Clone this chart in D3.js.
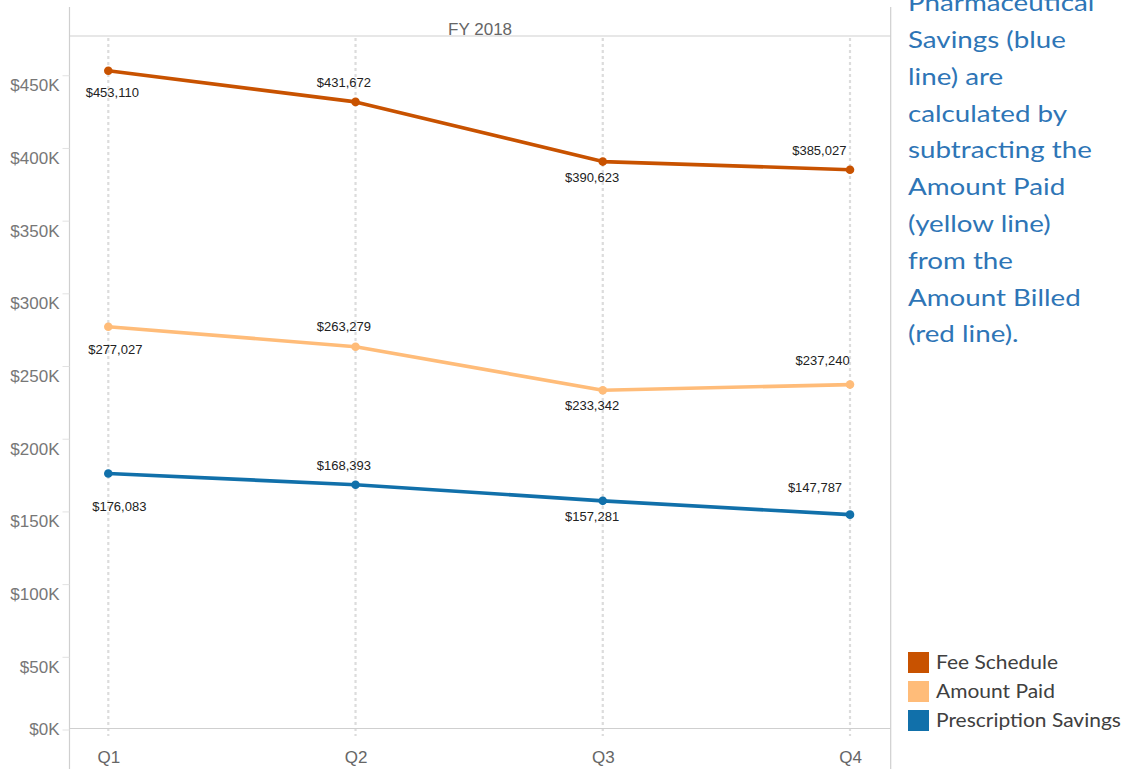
<!DOCTYPE html>
<html><head><meta charset="utf-8">
<script src="https://cdn.jsdelivr.net/npm/d3@7"></script>
<style>body{margin:0;background:#fff;} svg{display:block;}</style>
</head><body><svg id="c" width="1125" height="769"></svg>
<script>
// ---- data ----
const quarters = ["Q1", "Q2", "Q3", "Q4"];
const seriesNames = ["Fee Schedule", "Amount Paid", "Prescription Savings"];
const feeSchedule = [453110, 431672, 390623, 385027];
const amountPaid = [277027, 263279, 233342, 237240];
const prescriptionSavings = [176083, 168393, 157281, 147787];
const yTickValues = [0, 50000, 100000, 150000, 200000, 250000, 300000, 350000, 400000, 450000];
const headerLabel = "FY 2018";
const noteLines = ["Pharmaceutical", "Savings (blue", "line) are", "calculated by", "subtracting the",
  "Amount Paid", "(yellow line)", "from the", "Amount Billed", "(red line)."];

// ---- layout / style (not data) ----
const colors = ["#c85200", "#ffbc79", "#1170aa"];
const labelOffsets = [
  [[4, 26.7], [-11.6, -15], [-10.7, 20.3], [-30.7, -15]],
  [[7, 27.3], [-11.6, -15.7], [-10.7, 19.3], [-27.3, -20]],
  [[11, 38], [-11.6, -14.4], [-10.7, 19.7], [-35, -22.7]]
];
const series = seriesNames.map((name, i) => ({
  name, color: colors[i], offsets: labelOffsets[i],
  values: [feeSchedule, amountPaid, prescriptionSavings][i]
}));

const svg = d3.select("#c");
const pLeft = 69.5, pRight = 890.7, pTop = 36, frameTop = 7, pBase = 728.5;

const x = d3.scalePoint().domain(quarters).range([108.3, 850]);
const y = d3.scaleLinear().domain([0, 477000]).range([729.5, pTop]);

// frame
const frame = svg.append("g").attr("stroke", "#cfcfcf").attr("stroke-width", 1.2);
frame.append("line").attr("x1", pLeft).attr("x2", pLeft).attr("y1", frameTop).attr("y2", 769);
frame.append("line").attr("x1", pRight).attr("x2", pRight).attr("y1", frameTop).attr("y2", 769);
frame.append("line").attr("x1", pLeft).attr("x2", pRight).attr("y1", pTop).attr("y2", pTop);

// header
svg.append("text").attr("x", (pLeft + pRight) / 2).attr("y", 35)
  .attr("text-anchor", "middle").attr("font-family", "Arial, 'Liberation Sans', sans-serif")
  .attr("font-size", 17).attr("fill", "#666").text(headerLabel);

// gridlines
svg.append("g").selectAll("line").data(quarters).join("line")
  .attr("x1", d => x(d)).attr("x2", d => x(d)).attr("y1", pTop + 2).attr("y2", 736)
  .attr("stroke", "#dcdcdc").attr("stroke-width", 2.2).attr("stroke-dasharray", "3,3");

// baseline
svg.append("line").attr("x1", pLeft).attr("x2", pRight).attr("y1", pBase).attr("y2", pBase)
  .attr("stroke", "#cfcfcf").attr("stroke-width", 1.2);

// y axis
const yAxis = svg.append("g").attr("transform", `translate(${pLeft},0)`)
  .call(d3.axisLeft(y).tickValues(yTickValues).tickSize(7).tickPadding(3)
    .tickFormat(d => "$" + d / 1000 + "K"));
yAxis.select(".domain").remove();
yAxis.selectAll(".tick line").attr("stroke", "#e2e2e2");
yAxis.selectAll(".tick text")
  .attr("font-family", "Arial, 'Liberation Sans', sans-serif").attr("font-size", 17)
  .attr("fill", "#777").attr("dy", null)
  .attr("y", d => d === 0 ? 4.7 : 15.5);

// x axis
const xAxis = svg.append("g").attr("transform", `translate(0,${pBase})`)
  .call(d3.axisBottom(x).tickSize(0).tickPadding(0));
xAxis.select(".domain").remove();
xAxis.selectAll(".tick text")
  .attr("font-family", "Arial, 'Liberation Sans', sans-serif").attr("font-size", 17)
  .attr("fill", "#666").attr("dy", null).attr("y", 34.5);

// lines
const line = d3.line().x((d, i) => x(quarters[i])).y(d => y(d));
const sg = svg.append("g").selectAll("g").data(series).join("g");
sg.append("path").attr("d", d => line(d.values)).attr("fill", "none")
  .attr("stroke", d => d.color).attr("stroke-width", 3.6)
  .attr("stroke-linejoin", "round").attr("stroke-linecap", "round");
sg.selectAll("circle").data(d => d.values.map((v, i) => ({ v, i, c: d.color })))
  .join("circle").attr("cx", d => x(quarters[d.i])).attr("cy", d => y(d.v))
  .attr("r", 4.3).attr("fill", d => d.c);
sg.selectAll("text").data(d => d.values.map((v, i) => ({ v, i, o: d.offsets[i] })))
  .join("text")
  .attr("x", d => x(quarters[d.i]) + d.o[0]).attr("y", d => y(d.v) + d.o[1])
  .attr("text-anchor", "middle")
  .attr("font-family", "Arial, 'Liberation Sans', sans-serif").attr("font-size", 13)
  .attr("fill", "#222").text(d => "$" + d3.format(",")(d.v));

// note text
const note = svg.append("g");
const noteTexts = note.selectAll("text").data(noteLines).join("text")
  .attr("x", 0).attr("y", (d, i) => 11.3 + 36.8 * i)
  .attr("font-family", "Lato, 'Open Sans', sans-serif").attr("font-size", 23.5)
  .attr("fill", "#2e75b6").text(d => d);
const refW = noteTexts.filter(d => d === "subtracting the").node().getComputedTextLength();
note.attr("transform", `translate(908,0) scale(${184 / refW},1)`);

// legend
const legend = svg.append("g");
legend.selectAll("rect").data(series).join("rect")
  .attr("x", 908).attr("y", (d, i) => 652 + 29 * i).attr("width", 21).attr("height", 21)
  .attr("fill", d => d.color);
const lt = legend.append("g");
const ltTexts = lt.selectAll("text").data(series).join("text")
  .attr("x", 0).attr("y", (d, i) => 669 + 29 * i)
  .attr("font-family", "Lato, 'Open Sans', sans-serif").attr("font-size", 20)
  .attr("fill", "#404040").text(d => d.name);
const lw = ltTexts.filter(d => d.name === "Prescription Savings").node().getComputedTextLength();
lt.attr("transform", `translate(936,0) scale(${185 / lw},1)`);
</script>
</body></html>
